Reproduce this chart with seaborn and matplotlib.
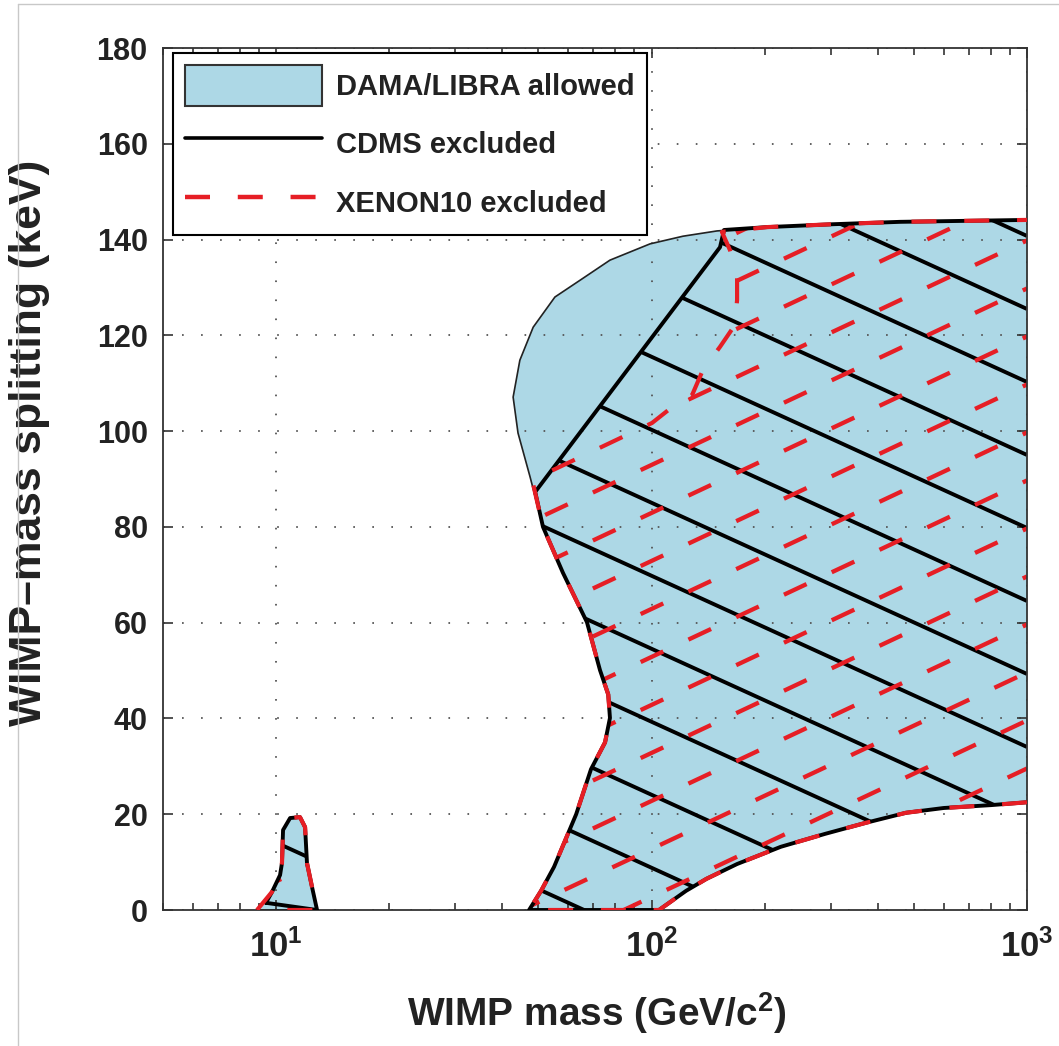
import numpy as np
import matplotlib
matplotlib.use("Agg")
import matplotlib.pyplot as plt
import seaborn as sns
from matplotlib.patches import Patch
from matplotlib.lines import Line2D
from matplotlib.ticker import FixedLocator, FixedFormatter, LogLocator, NullFormatter

# ---------------- data ----------------
# DAMA/LIBRA allowed region, large island (WIMP mass GeV/c^2, splitting keV)
# boundary order: along the bottom edge from the right, up the left side, across the top
dama_main_mass = [1000, 802, 600, 476, 372, 290, 221, 169, 140, 123.6, 104.7,
                  47.2, 50.8, 55.0, 63.0, 69.0, 75.2, 77.5, 76.7, 72.9, 67.3, 58.1, 51.4,
                  47.5, 44.1, 42.8, 44.6, 48.4, 55.3, 64.5, 77.5, 99.1, 121.3, 149.4, 203,
                  304, 459, 1000]
dama_main_split = [22.5, 21.9, 21.3, 20.3, 18.2, 15.9, 13.2, 9.6, 6.5, 4.0, 0,
                   0, 4.0, 9.0, 20.0, 29.4, 35.0, 40.1, 45.0, 50.1, 60.1, 70.4, 80.0,
                   90.4, 99.6, 107.1, 114.8, 121.7, 128.0, 131.5, 135.7, 139.1, 140.7, 141.8, 142.6,
                   143.2, 143.7, 144.1]
# small island near 10 GeV
dama_small_mass = [8.90, 9.76, 10.25, 10.37, 10.44, 10.90, 11.58, 11.95, 12.09, 12.47, 12.86]
dama_small_split = [0, 3.8, 7.3, 9.8, 16.7, 19.2, 19.4, 17.3, 9.8, 4.8, 0]

# CDMS excluded region
cdms_main_mass = [1000, 802, 600, 476, 372, 290, 221, 169, 140, 123.6, 104.7,
                  47.2, 50.8, 55.0, 63.0, 69.0, 75.2, 77.5, 76.7, 72.9, 67.3, 58.1, 51.4,
                  49.0, 152.2, 156, 203, 304, 459, 1000]
cdms_main_split = [22.5, 21.9, 21.3, 20.3, 18.2, 15.9, 13.2, 9.6, 6.5, 4.0, 0,
                   0, 4.0, 9.0, 20.0, 29.4, 35.0, 40.1, 45.0, 50.1, 60.1, 70.4, 80.0,
                   87.3, 138.4, 142.0, 142.6, 143.2, 143.7, 144.1]
cdms_small_mass = [9.40, 9.76, 10.25, 10.37, 10.44, 10.90, 11.58, 11.95, 12.09, 12.47, 12.86]
cdms_small_split = [1.5, 3.8, 7.3, 9.8, 16.7, 19.2, 19.4, 17.3, 9.8, 4.8, 0]

# XENON10 excluded region
xenon_main_mass = [1000, 802, 600, 476, 372, 290, 221, 169, 140, 123.6, 104.7,
                   47.2, 50.8, 55.0, 63.0, 69.0, 75.2, 77.5, 76.7, 72.9, 67.3, 58.1, 51.4,
                   48.1, 100.3, 113.4, 128.2, 137.1, 152.2, 166.9, 169, 169, 161.8, 154,
                   203, 304, 459, 1000]
xenon_main_split = [22.5, 21.9, 21.3, 20.3, 18.2, 15.9, 13.2, 9.6, 6.5, 4.0, 0,
                    0, 4.0, 9.0, 20.0, 29.4, 35.0, 40.1, 45.0, 50.1, 60.1, 70.4, 80.0,
                    89.8, 101.7, 105.0, 107.5, 112.8, 117.6, 122.2, 127.4, 132.0, 137.8, 141.6,
                    142.6, 143.2, 143.7, 144.1]
xenon_small_mass = [8.90, 9.76, 10.25, 10.37, 10.44, 10.90, 11.58, 11.95, 12.09, 12.47, 12.86]
xenon_small_split = [0, 3.8, 7.3, 9.8, 16.7, 19.2, 19.4, 17.3, 9.8, 4.8, 0]

y_ticks = [0, 20, 40, 60, 80, 100, 120, 140, 160, 180]
x_ticks = [10, 100, 1000]
x_ticklabels = ["$10^{1}$", "$10^{2}$", "$10^{3}$"]
legend_labels = ["DAMA/LIBRA allowed", "CDMS excluded", "XENON10 excluded"]

# ---------------- style ----------------
sns.set_theme(style="ticks")
plt.rcParams["font.family"] = ["Liberation Sans", "DejaVu Sans"]
plt.rcParams["font.weight"] = "bold"
plt.rcParams["mathtext.fontset"] = "custom"
plt.rcParams["mathtext.rm"] = "Liberation Sans:bold"
plt.rcParams["mathtext.bf"] = "Liberation Sans:bold"
plt.rcParams["mathtext.it"] = "Liberation Sans:bold"
plt.rcParams["mathtext.default"] = "rm"
plt.rcParams["lines.scale_dashes"] = False

BLUE = "#add8e6"
RED = "#e61e25"
DASH = (0, (18, 20))

fig = plt.figure(figsize=(10.59, 10.46), dpi=100)
ax = fig.add_axes([163 / 1059, 136 / 1046, 864 / 1059, 862 / 1046])
ax.set_xscale("log")


def outline(mx, sy, close):
    if close:
        return list(mx) + [mx[0]], list(sy) + [sy[0]]
    return list(mx), list(sy)


regions = [
    (dama_main_mass, dama_main_split, False),
    (dama_small_mass, dama_small_split, True),
]
# fills
for mx, sy, cl in regions:
    ax.fill(mx, sy, facecolor=BLUE, edgecolor="none", zorder=1)
    cx, cy = outline(mx, sy, cl)
    sns.lineplot(x=cx, y=cy, sort=False, estimator=None, color="#222222",
                 lw=1.2, ax=ax, zorder=2.9)

ax.set_xlim(5, 1000)
ax.set_ylim(0, 180)


def hatch(clip, slope, spacing, anchor, color, lw, ls, z):
    bbox = ax.get_position()
    W = bbox.width * fig.get_figwidth() * fig.dpi
    H = bbox.height * fig.get_figheight() * fig.dpi
    xs = np.array([0.0, W])
    for k in range(-40, 41):
        ys = anchor[1] + slope * (xs - anchor[0]) + k * spacing
        ln, = ax.plot(xs / W, ys / H, transform=ax.transAxes, color=color, lw=lw,
                      ls=ls, zorder=z, solid_capstyle="butt", dash_capstyle="butt")
        ln.set_clip_path(clip)


cdms_regions = [(cdms_main_mass, cdms_main_split, False), (cdms_small_mass, cdms_small_split, True)]
xenon_regions = [(xenon_main_mass, xenon_main_split, False), (xenon_small_mass, xenon_small_split, True)]

for mx, sy, cl in cdms_regions:
    clip = ax.fill(mx, sy, facecolor="none", edgecolor="none")[0]
    hatch(clip, -0.456, 73, (386, 381), "black", 2.8, "-", 2.2)
for mx, sy, cl in xenon_regions:
    clip = ax.fill(mx, sy, facecolor="none", edgecolor="none")[0]
    hatch(clip, 0.47, 48, (548, 425), RED, 3.1, DASH, 2.4)

for mx, sy, cl in cdms_regions:
    cx, cy = outline(mx, sy, cl)
    sns.lineplot(x=cx, y=cy, sort=False, estimator=None, color="black", lw=2.8,
                 ax=ax, zorder=3)
for mx, sy, cl in xenon_regions:
    cx, cy = outline(mx, sy, cl)
    sns.lineplot(x=cx, y=cy, sort=False, estimator=None, color=RED, lw=3.0,
                 ls=DASH, ax=ax, zorder=3.1)

ax.set_xlim(5, 1000)
ax.set_ylim(0, 180)

# axes, ticks, grid
ax.set_axisbelow("line")
ax.xaxis.set_major_locator(FixedLocator(x_ticks))
ax.xaxis.set_major_formatter(FixedFormatter(x_ticklabels))
ax.xaxis.set_minor_locator(LogLocator(base=10, subs=np.arange(2, 10)))
ax.xaxis.set_minor_formatter(NullFormatter())
ax.set_yticks(y_ticks)
ax.set_yticklabels([str(v) for v in y_ticks])
ax.tick_params(which="both", direction="in", top=True, right=True, color="#333333", width=1.2)
ax.tick_params(which="major", length=7)
ax.tick_params(which="minor", length=5)
ax.tick_params(axis="y", labelsize=22, pad=11)
ax.tick_params(axis="x", labelsize=25, pad=14)
for lab in ax.get_xticklabels() + ax.get_yticklabels():
    lab.set_fontweight("bold")
    lab.set_color("#222222")
ax.grid(True, which="major", ls=(0, (1.2, 12.5)), color="#555555", lw=1.3)
for sp in ax.spines.values():
    sp.set_color("#333333")
    sp.set_linewidth(1.3)
    sp.set_visible(True)

ax.set_xlabel("WIMP mass (GeV/c$^2$)", fontsize=28, fontweight="bold", color="#222222")
ax.set_ylabel("WIMP\u2013mass splitting (keV)", fontsize=32, fontweight="bold", color="#222222")
ax.xaxis.set_label_coords(0.502, -0.093)
ax.yaxis.set_label_coords(-0.131, 0.542)

# legend
handles = [Patch(facecolor=BLUE, edgecolor="#333333", lw=1.5),
           Line2D([], [], color="black", lw=2.6),
           Line2D([], [], color=RED, lw=3.2, ls=DASH)]
leg = ax.legend(handles, legend_labels, loc="upper left", bbox_to_anchor=(0.0116, 0.9942),
                borderaxespad=0, fontsize=21, handlelength=4.7, handleheight=1.8,
                labelspacing=0.6, handletextpad=0.5, borderpad=0.4, fancybox=False,
                frameon=True, framealpha=1, edgecolor="black")
leg.get_frame().set_linewidth(1.5)
leg.set_zorder(10)
for t in leg.get_texts():
    t.set_fontweight("bold")
    t.set_color("#222222")

# light picture border (left and top)
fig.add_artist(Line2D([18 / 1059, 18 / 1059], [0, 1 - 4 / 1046], transform=fig.transFigure,
                      color="#c8c8c8", lw=1))
fig.add_artist(Line2D([18 / 1059, 1], [1 - 4 / 1046, 1 - 4 / 1046], transform=fig.transFigure,
                      color="#c8c8c8", lw=1))

fig.savefig("out.png", dpi=100, facecolor="white")
